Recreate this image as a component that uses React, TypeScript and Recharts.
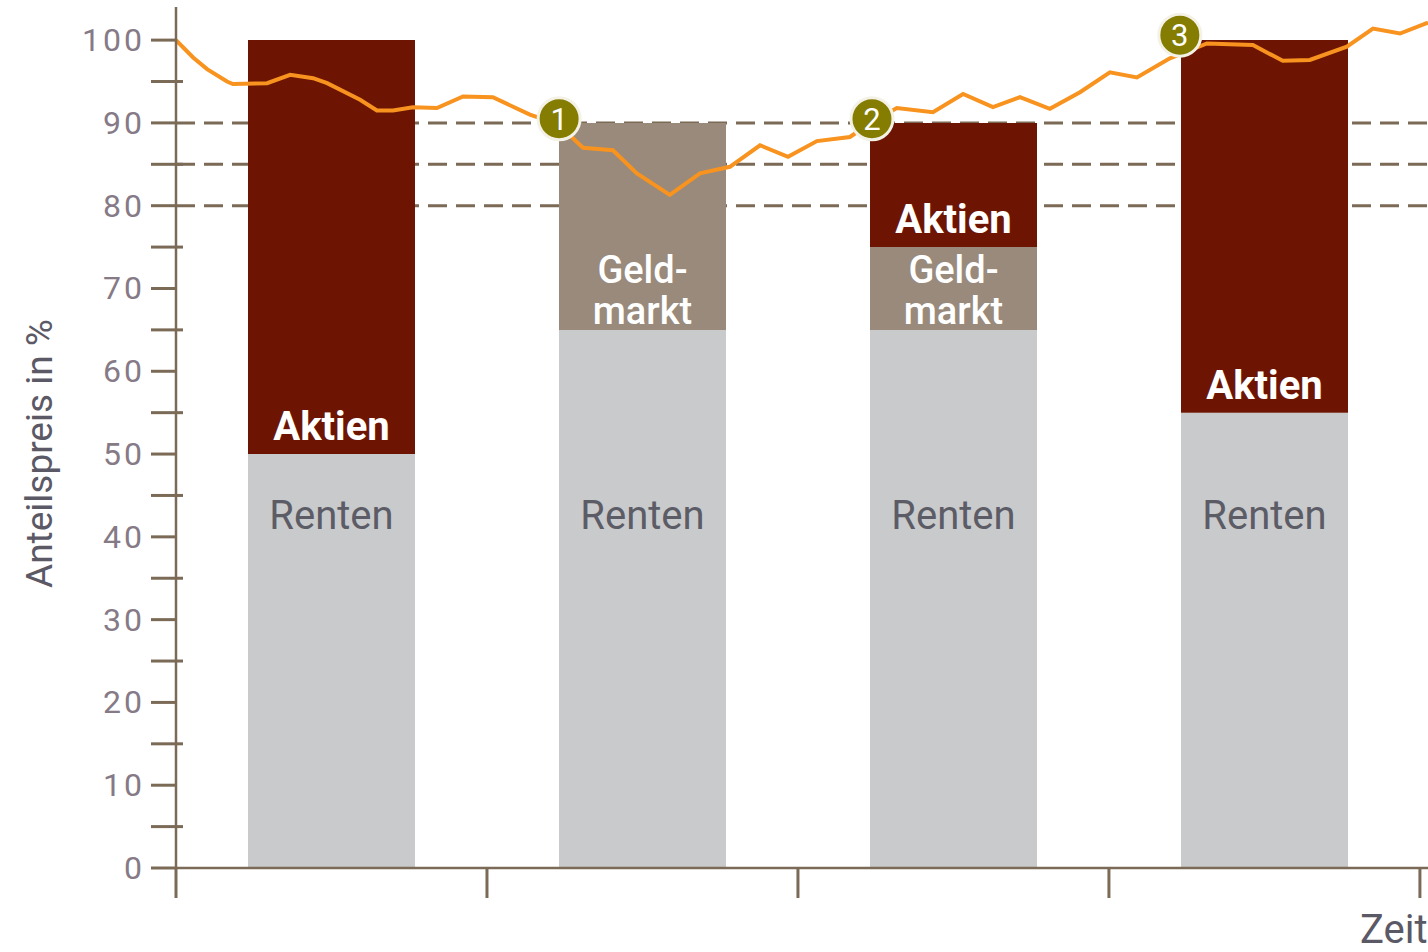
import {
  ComposedChart,
  Bar,
  Line,
  Scatter,
  XAxis,
  YAxis,
  ReferenceLine,
  LabelList,
} from 'recharts';

// ---- data ----
const periods = ['Phase 1', 'Phase 2', 'Phase 3', 'Phase 4'];
const renten = [50, 65, 65, 55];
const geldmarkt = [0, 25, 10, 0];
const aktien = [50, 0, 15, 45];

// share price path (x in periods, y in %)
const priceX = [
  0, 0.055, 0.1, 0.164, 0.183, 0.293, 0.367, 0.441, 0.486, 0.592, 0.646, 0.698,
  0.762, 0.839, 0.923, 1.019, 1.138, 1.232, 1.289, 1.309, 1.405, 1.482, 1.588,
  1.685, 1.781, 1.878, 1.968, 2.061, 2.167, 2.238, 2.318, 2.434, 2.531, 2.627,
  2.714, 2.81, 2.907, 3.003, 3.09, 3.196, 3.315, 3.463, 3.559, 3.646, 3.765,
  3.849, 3.936, 4.026,
];
const priceY = [
  100, 97.9, 96.5, 95.0, 94.7, 94.8, 95.8, 95.4, 94.8, 92.8, 91.5, 91.5, 91.9,
  91.8, 93.2, 93.1, 91.0, 89.8, 87.7, 87.0, 86.7, 83.9, 81.3, 83.9, 84.7, 87.3,
  85.9, 87.8, 88.3, 90.1, 91.8, 91.3, 93.5, 91.9, 93.1, 91.7, 93.7, 96.1, 95.5,
  97.8, 99.6, 99.4, 97.5, 97.6, 99.2, 101.4, 100.8, 102.1,
];

// numbered markers on the price path
const markerX = [1.232, 2.238, 3.228];
const markerY = [90.5, 90.5, 100.6];
const markerNo = [1, 2, 3];

const yTicks = [0, 5, 10, 15, 20, 25, 30, 35, 40, 45, 50, 55, 60, 65, 70, 75, 80, 85, 90, 95, 100];
const timeTicks = [0, 1, 2, 3, 4];
const guideLevels = [90, 85, 80];

const barData = periods.map((name, i) => ({
  name,
  renten: renten[i],
  geldmarkt: geldmarkt[i],
  aktien: aktien[i],
}));
const priceData = priceX.map((x, i) => ({ x, y: priceY[i] }));
const markerData = markerX.map((x, i) => ({ x, y: markerY[i], n: markerNo[i] }));

// ---- styles ----
const AXIS = '#7b6a55';
const FONT = 'Roboto, "Noto Sans", sans-serif';
const C_AKTIEN = '#6d1502';
const C_GELD = '#998a7c';
const C_RENTEN = '#c9cacc';
const C_LINE = '#f7931e';
const C_MARKER = '#857d02';

// Y ticks: long ticks every 10 with label, short ones crossing the axis every 5
const YTick = (props: any) => {
  const { x, y, payload } = props;
  const major = payload.value % 10 === 0;
  return (
    <g>
      <line x1={x - 25} y1={y} x2={major ? x : x + 7} y2={y} stroke={AXIS} strokeWidth={3} />
      {major && (
        <text
          x={x - 31}
          y={y + 11}
          textAnchor="end"
          fill="#857a86"
          fontSize={32}
          fontFamily={FONT}
          letterSpacing={3}
        >
          {payload.value}
        </text>
      )}
    </g>
  );
};

const NoLabel = () => <g />;

// segment geometry from label props
const segBox = (p: any) => {
  const v = p.viewBox && p.viewBox.width != null ? p.viewBox : p;
  const x = Number(v.x);
  const y = Number(v.y);
  const w = Number(v.width);
  const h = Number(v.height);
  return { cx: x + w / 2, bottom: h >= 0 ? y + h : y };
};

const rentenLabel = (p: any) => {
  if (!p.value) return null;
  const { cx, bottom } = segBox(p);
  return (
    <text x={cx} y={bottom - 339} textAnchor="middle" fill="#5c5c66" fontSize={40} fontFamily={FONT}>
      Renten
    </text>
  );
};

const geldLabel = (p: any) => {
  if (!p.value) return null;
  const { cx, bottom } = segBox(p);
  return (
    <g fill="#ffffff" fontSize={38} fontFamily={FONT} fontWeight={500}>
      <text x={cx} y={bottom - 47} textAnchor="middle">Geld-</text>
      <text x={cx} y={bottom - 6} textAnchor="middle">markt</text>
    </g>
  );
};

const aktienLabel = (p: any) => {
  if (!p.value) return null;
  const { cx, bottom } = segBox(p);
  return (
    <text x={cx} y={bottom - 14} textAnchor="middle" fill="#ffffff" fontSize={40} fontWeight={700} fontFamily={FONT}>
      Aktien
    </text>
  );
};

const Marker = (props: any) => {
  const { cx, cy, payload } = props;
  if (cx == null || cy == null) return null;
  return (
    <g>
      <circle cx={cx} cy={cy} r={21} fill={C_MARKER} stroke="#f4f1e6" strokeWidth={3} />
      <text x={cx} y={cy + 11} textAnchor="middle" fill="#ffffff" fontSize={31} fontFamily={FONT}>
        {payload.n}
      </text>
    </g>
  );
};

const YTitle = (p: any) => {
  const vb = p.viewBox || { x: 0, y: 0, width: 0, height: 0 };
  const x = vb.x + 52;
  const y = vb.y + vb.height / 2 + 16;
  return (
    <text
      x={x}
      y={y}
      transform={`rotate(-90 ${x} ${y})`}
      textAnchor="middle"
      fill="#5b5966"
      fontSize={37}
      fontFamily={FONT}
    >
      Anteilspreis in %
    </text>
  );
};

const XTitle = (p: any) => {
  const vb = p.viewBox || { x: 0, y: 0, width: 0, height: 0 };
  return (
    <text x={vb.x + vb.width - 68} y={vb.y + vb.height + 45} fill="#5b5966" fontSize={40} fontFamily={FONT}>
      Zeit
    </text>
  );
};

export default function App() {
  return (
    <div style={{ position: 'absolute', left: 0, top: 0, width: 1428, height: 952, background: '#fff' }}>
      <ComposedChart
        width={1428}
        height={952}
        data={barData}
        margin={{ top: 7, right: 0, left: 0, bottom: 54 }}
      >
        <XAxis
          xAxisId="num"
          dataKey="x"
          type="number"
          domain={[0, 4.026]}
          allowDataOverflow
          ticks={timeTicks}
          interval={0}
          height={30}
          tickSize={30}
          tick={NoLabel}
          tickLine={{ stroke: AXIS, strokeWidth: 3 }}
          axisLine={{ stroke: AXIS, strokeWidth: 2.5 }}
          label={{ content: XTitle }}
        />
        <XAxis xAxisId="cat" dataKey="name" type="category" hide height={0} padding={{ left: 0, right: 8 }} />
        <YAxis
          type="number"
          domain={[0, 104]}
          allowDataOverflow
          ticks={yTicks}
          interval={0}
          width={176}
          tickSize={0}
          tickMargin={0}
          tickLine={false}
          tick={YTick}
          axisLine={{ stroke: AXIS, strokeWidth: 2.5 }}
          label={{ content: YTitle }}
        />

        {guideLevels.map((v) => (
          <ReferenceLine
            key={v}
            xAxisId="num"
            y={v}
            stroke={AXIS}
            strokeWidth={3}
            strokeDasharray="19 9"
            zIndex={-50}
          />
        ))}

        <Bar xAxisId="cat" dataKey="renten" stackId="s" fill={C_RENTEN} barSize={167} isAnimationActive={false}>
          <LabelList dataKey="renten" content={rentenLabel} />
        </Bar>
        <Bar xAxisId="cat" dataKey="geldmarkt" stackId="s" fill={C_GELD} barSize={167} isAnimationActive={false}>
          <LabelList dataKey="geldmarkt" content={geldLabel} />
        </Bar>
        <Bar xAxisId="cat" dataKey="aktien" stackId="s" fill={C_AKTIEN} barSize={167} isAnimationActive={false}>
          <LabelList dataKey="aktien" content={aktienLabel} />
        </Bar>

        <Line
          xAxisId="num"
          data={priceData}
          dataKey="y"
          type="linear"
          stroke={C_LINE}
          strokeWidth={4}
          dot={false}
          activeDot={false}
          isAnimationActive={false}
        />
        <Scatter
          xAxisId="num"
          data={markerData}
          dataKey="y"
          shape={(p: any) => <Marker {...p} />}
          isAnimationActive={false}
        />
      </ComposedChart>
    </div>
  );
}
